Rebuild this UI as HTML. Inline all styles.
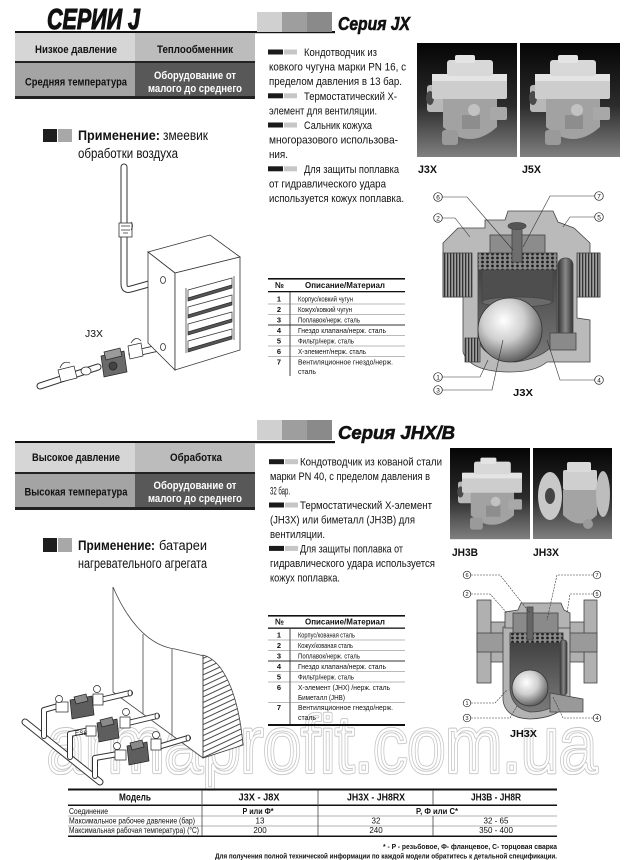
<!DOCTYPE html>
<html><head><meta charset="utf-8"><title>Серии J</title>
<style>
html,body{margin:0;padding:0;background:#fff;width:640px;height:860px;overflow:hidden}
svg{display:block}
text{font-family:"Liberation Sans","Noto Sans CJK SC",sans-serif;fill:#111}
</style></head><body>
<svg width="640" height="860" viewBox="0 0 640 860" xmlns="http://www.w3.org/2000/svg">
<defs>
 <linearGradient id="photo" x1="0" y1="0" x2="0" y2="1">
  <stop offset="0" stop-color="#050505"/>
  <stop offset="0.55" stop-color="#2c2c2c"/>
  <stop offset="1" stop-color="#808080"/>
 </linearGradient>
 <radialGradient id="ball" cx="0.4" cy="0.35" r="0.72">
  <stop offset="0" stop-color="#ffffff"/>
  <stop offset="0.45" stop-color="#cfcfcf"/>
  <stop offset="1" stop-color="#4a4a4a"/>
 </radialGradient>
 <linearGradient id="chamber" x1="0" y1="0" x2="0" y2="1">
  <stop offset="0" stop-color="#3a3a3a"/>
  <stop offset="1" stop-color="#7a7a7a"/>
 </linearGradient>
 <linearGradient id="tube" x1="0" y1="0" x2="1" y2="0">
  <stop offset="0" stop-color="#333"/>
  <stop offset="0.5" stop-color="#888"/>
  <stop offset="1" stop-color="#333"/>
 </linearGradient>
 <pattern id="mesh" width="5" height="4" patternUnits="userSpaceOnUse">
  <rect width="5" height="4" fill="#8a8a8a"/>
  <circle cx="2.5" cy="2" r="1.4" fill="#1e1e1e"/>
 </pattern>
 <pattern id="thread" width="3" height="10" patternUnits="userSpaceOnUse">
  <rect width="3" height="10" fill="#a0a0a0"/>
  <rect width="1.3" height="10" fill="#303030"/>
 </pattern>
 <pattern id="hatch" width="5" height="5" patternUnits="userSpaceOnUse" patternTransform="rotate(-25)">
  <rect width="5" height="5" fill="#fff"/>
  <line x1="0" y1="2.5" x2="5" y2="2.5" stroke="#333" stroke-width="0.9"/>
 </pattern>
 <g id="ico"><rect x="0" y="0" width="15" height="5" fill="#1a1a1a"/><rect x="16" y="0" width="13" height="5" fill="#c6c6c6"/></g>
 <g id="trapA">
  <rect x="0" y="0" width="100" height="114" fill="url(#photo)"/>
  <rect x="10" y="42" width="19" height="27" rx="3" fill="#b8b8b8"/>
  <ellipse cx="13" cy="55" rx="4" ry="7" fill="#4a4a4a"/>
  <path d="M26,55 L80,55 L80,84 Q53,108 26,84 Z" fill="#a2a2a2"/>
  <rect x="15" y="31" width="75" height="25" rx="2" fill="#cdcdcd"/>
  <rect x="15" y="31" width="75" height="7" fill="#e4e4e4"/>
  <rect x="30" y="17" width="46" height="16" rx="3" fill="#d8d8d8"/>
  <rect x="38" y="12" width="20" height="8" rx="2" fill="#e4e4e4"/>
  <rect x="25" y="87" width="16" height="15" rx="3" fill="#9a9a9a"/>
  <rect x="73" y="64" width="17" height="13" rx="2" fill="#a8a8a8"/>
  <rect x="45" y="72" width="18" height="14" fill="#8d8d8d"/>
  <circle cx="57" cy="67" r="6" fill="#c2c2c2"/>
 </g>
</defs>

<!-- watermark (hollow outlined letters), drawn first -->
<text x="47" y="772" font-size="80" textLength="550" lengthAdjust="spacingAndGlyphs" style="fill:none;stroke:#c4c4c4;stroke-width:4.2;stroke-linejoin:round">armaprofit.com.ua</text>
<text x="47" y="772" font-size="80" textLength="550" lengthAdjust="spacingAndGlyphs" style="fill:none;stroke:#fff;stroke-width:2.4;stroke-linejoin:round">armaprofit.com.ua</text>

<!-- ===== SECTION 1 HEADER ===== -->
<text x="47" y="29" font-size="29" font-weight="bold" font-style="italic" textLength="93" lengthAdjust="spacingAndGlyphs" stroke="#111" stroke-width="1.1">СЕРИИ J</text>
<rect x="15" y="31" width="320" height="2.2" fill="#111"/>
<rect x="257" y="12" width="25" height="20" fill="#d0d0d0"/>
<rect x="282" y="12" width="25" height="20" fill="#9e9e9e"/>
<rect x="307" y="12" width="25" height="20" fill="#8a8a8a"/>
<text x="338" y="30" font-size="18.5" font-weight="bold" font-style="italic" textLength="72" lengthAdjust="spacingAndGlyphs" stroke="#111" stroke-width="0.6">Серия JX</text>

<!-- table 1 -->
<rect x="15" y="33" width="120" height="29" fill="#d6d6d6"/>
<rect x="135" y="33" width="120" height="29" fill="#bcbcbc"/>
<rect x="15" y="61" width="240" height="2" fill="#222"/>
<rect x="15" y="63" width="120" height="34" fill="#a4a4a4"/>
<rect x="135" y="63" width="120" height="34" fill="#585858"/>
<rect x="15" y="96" width="240" height="3" fill="#222"/>
<text x="76" y="53" font-size="11" font-weight="bold" text-anchor="middle" textLength="82" lengthAdjust="spacingAndGlyphs">Низкое давление</text>
<text x="195" y="53" font-size="11" font-weight="bold" text-anchor="middle" textLength="76" lengthAdjust="spacingAndGlyphs">Теплообменник</text>
<text x="76" y="85.5" font-size="11" font-weight="bold" text-anchor="middle" textLength="102" lengthAdjust="spacingAndGlyphs">Средняя температура</text>
<text x="195" y="79" font-size="11" font-weight="bold" text-anchor="middle" textLength="82" lengthAdjust="spacingAndGlyphs" style="fill:#fff">Оборудование от</text>
<text x="195" y="92" font-size="11" font-weight="bold" text-anchor="middle" textLength="94" lengthAdjust="spacingAndGlyphs" style="fill:#fff">малого до среднего</text>

<!-- text block 1 -->
<use href="#ico" x="268" y="49.5"/>
<text x="304" y="56" font-size="11" textLength="73" lengthAdjust="spacingAndGlyphs">Кондотводчик из</text>
<text x="269" y="70.6" font-size="11" textLength="137" lengthAdjust="spacingAndGlyphs">ковкого чугуна марки PN 16, с</text>
<text x="269" y="85.2" font-size="11" textLength="133" lengthAdjust="spacingAndGlyphs">пределом давления в 13 бар.</text>
<use href="#ico" x="268" y="93.3"/>
<text x="304" y="99.8" font-size="11" textLength="93" lengthAdjust="spacingAndGlyphs">Термостатический Х-</text>
<text x="269" y="114.4" font-size="11" textLength="108" lengthAdjust="spacingAndGlyphs">элемент для вентиляции.</text>
<use href="#ico" x="268" y="122.5"/>
<text x="304" y="129" font-size="11" textLength="68" lengthAdjust="spacingAndGlyphs">Сальник кожуха</text>
<text x="269" y="143.6" font-size="11" textLength="129" lengthAdjust="spacingAndGlyphs">многоразового использова-</text>
<text x="269" y="158.2" font-size="11" textLength="19" lengthAdjust="spacingAndGlyphs">ния.</text>
<use href="#ico" x="268" y="166.3"/>
<text x="304" y="172.8" font-size="11" textLength="95" lengthAdjust="spacingAndGlyphs">Для защиты поплавка</text>
<text x="269" y="187.4" font-size="11" textLength="117" lengthAdjust="spacingAndGlyphs">от гидравлического удара</text>
<text x="269" y="202" font-size="11" textLength="135" lengthAdjust="spacingAndGlyphs">используется кожух поплавка.</text>

<!-- photos 1 -->
<use href="#trapA" transform="translate(417,43)"/>
<use href="#trapA" transform="translate(520,43)"/>
<text x="418" y="173" font-size="11" font-weight="bold" textLength="19" lengthAdjust="spacingAndGlyphs">J3X</text>
<text x="522" y="173" font-size="11" font-weight="bold" textLength="19" lengthAdjust="spacingAndGlyphs">J5X</text>

<!-- cross-section 1 -->
<g stroke="#444" stroke-width="0.8">
 <path d="M443,243 L458,228 L485,228 L485,220 L505,220 L508,211 L553,211 L558,222 L574,228 L590,243 L590,253 L600,253 L600,297 L577,297 L577,318 L590,320 L590,362 L547,362 Q535,372 510,372 Q470,372 463,352 L463,297 L443,297 Z" fill="#bababa"/>
 <rect x="443" y="253" width="29" height="44" fill="url(#thread)"/>
 <rect x="577" y="253" width="23" height="44" fill="url(#thread)"/>
 <path d="M478,253 L557,253 L557,337 Q550,357 515,362 Q480,357 478,337 Z" fill="url(#chamber)"/>
 <rect x="478" y="253" width="79" height="17" fill="url(#mesh)"/>
 <rect x="482" y="270" width="71" height="32" fill="#4e4e4e"/>
 <ellipse cx="517" cy="302" rx="35" ry="5" fill="#6a6a6a"/>
 <rect x="490" y="235" width="55" height="18" fill="#8c8c8c"/>
 <rect x="512" y="225" width="10" height="37" fill="#6e6e6e"/>
 <ellipse cx="517" cy="226" rx="9" ry="3.5" fill="#555"/>
 <rect x="558" y="258" width="15" height="80" rx="7" fill="url(#tube)"/>
 <rect x="465" y="338" width="15" height="24" fill="url(#thread)"/>
 <rect x="550" y="333" width="26" height="17" fill="#8a8a8a"/>
 <circle cx="510" cy="330" r="32" fill="url(#ball)" stroke="#333"/>
</g>
<g stroke="#333" stroke-width="0.6" fill="none">
 <path d="M442.5,197 L467,197 L513,250"/>
 <path d="M594.5,196 L550,196 L523,247"/>
 <path d="M442.5,218 L455,218 L470,237"/>
 <path d="M594.5,217 L570,217 L563,227"/>
 <path d="M442.5,377 L480,377 L488,360"/>
 <path d="M442.5,390 L492,390 L503,340"/>
 <path d="M594.5,380 L560,380 L547,340"/>
</g>
<g stroke="#222" stroke-width="0.7" fill="#fff">
 <circle cx="438" cy="197" r="4.3"/><circle cx="599" cy="196" r="4.3"/>
 <circle cx="438" cy="218" r="4.3"/><circle cx="599" cy="217" r="4.3"/>
 <circle cx="438" cy="377" r="4.3"/><circle cx="438" cy="390" r="4.3"/>
 <circle cx="599" cy="380" r="4.3"/>
</g>
<g font-size="6.5" text-anchor="middle">
 <text x="438" y="199.3">6</text><text x="599" y="198.3">7</text>
 <text x="438" y="220.3">2</text><text x="599" y="219.3">5</text>
 <text x="438" y="379.3">1</text><text x="438" y="392.3">3</text>
 <text x="599" y="382.3">4</text>
</g>
<text x="513" y="396" font-size="10.5" font-weight="bold" textLength="20" lengthAdjust="spacingAndGlyphs">J3X</text>

<!-- application 1 -->
<rect x="43" y="129" width="14" height="13" fill="#1e1e1e"/>
<rect x="58" y="129" width="14" height="13" fill="#a8a8a8"/>
<text x="78" y="140" font-size="13.5" font-weight="bold" textLength="82" lengthAdjust="spacingAndGlyphs">Применение:</text>
<text x="163" y="140" font-size="13.5" textLength="45" lengthAdjust="spacingAndGlyphs">змеевик</text>
<text x="78" y="158" font-size="13.5" textLength="100" lengthAdjust="spacingAndGlyphs">обработки воздуха</text>

<!-- illustration 1 -->
<g fill="none" stroke-linecap="round" stroke-linejoin="round">
 <path d="M124,167 L124,284 Q124,291 131,289 L163,280" stroke="#333" stroke-width="7"/>
 <path d="M124,167 L124,284 Q124,291 131,289 L163,280" stroke="#fff" stroke-width="5"/>
 <path d="M163,347 L132,354" stroke="#333" stroke-width="7"/>
 <path d="M163,347 L132,354" stroke="#fff" stroke-width="5"/>
 <path d="M98,367 L40,386" stroke="#333" stroke-width="7"/>
 <path d="M98,367 L40,386" stroke="#fff" stroke-width="5"/>
</g>
<g stroke="#333" stroke-width="0.8">
 <rect x="119" y="223" width="13" height="14" fill="#fff"/>
 <path d="M121,226 L130,226 M121,230 L130,230 M123,233 L128,233" fill="none"/>
 <path d="M131,222 Q134,226 131,230" fill="none"/>
 <polygon points="148,252 210,235 240,257 175,273" fill="#fff"/>
 <polygon points="148,252 175,273 175,370 148,343" fill="#fff"/>
 <polygon points="175,273 240,257 240,350 175,370" fill="#fff"/>
 <ellipse cx="163" cy="280" rx="2.5" ry="3.5" fill="#fff"/>
 <ellipse cx="163" cy="347" rx="2.5" ry="3.5" fill="#fff"/>
</g>
<g stroke="#333" stroke-width="0.7">
 <polygon points="188,290 232,278 232,285 188,298" fill="#fff"/>
 <polygon points="188,298 232,285 232,288 188,301" fill="#555"/>
 <polygon points="188,307 232,295 232,302 188,315" fill="#fff"/>
 <polygon points="188,315 232,302 232,305 188,318" fill="#555"/>
 <polygon points="188,324 232,312 232,319 188,332" fill="#fff"/>
 <polygon points="188,332 232,319 232,322 188,335" fill="#555"/>
 <polygon points="188,341 232,329 232,336 188,349" fill="#fff"/>
 <polygon points="188,349 232,336 232,339 188,352" fill="#555"/>
 <path d="M186,288 L186,353 M234,276 L234,340" fill="none"/>
</g>
<g stroke="#222" stroke-width="0.7">
 <path d="M101,356 L124,351 L127,372 L104,377 Z" fill="#6a6a6a"/>
 <path d="M104,352 L120,348 L122,356 L106,360 Z" fill="#9a9a9a"/>
 <circle cx="113" cy="366" r="4" fill="#444"/>
 <path d="M128,346 L141,343 L143,356 L130,359 Z" fill="#fff"/>
 <path d="M131,343 Q136,335 141,341" fill="none"/>
 <path d="M58,370 L74,366 L77,378 L61,382 Z" fill="#fff"/>
 <path d="M60,368 Q63,360 70,363" fill="none"/>
 <ellipse cx="86" cy="371" rx="5" ry="4" fill="#fff"/>
</g>
<text x="85" y="337" font-size="10" textLength="18" lengthAdjust="spacingAndGlyphs">J3X</text>

<!-- parts table 1 -->
<rect x="268" y="278" width="137" height="1.6" fill="#111"/>
<text x="275" y="288" font-size="8.5" font-weight="bold" textLength="9" lengthAdjust="spacingAndGlyphs">№</text>
<text x="305" y="288" font-size="8.5" font-weight="bold" textLength="80" lengthAdjust="spacingAndGlyphs">Описание/Материал</text>
<rect x="268" y="291" width="137" height="1.3" fill="#111"/>
<line x1="290" y1="292" x2="290" y2="376" stroke="#444" stroke-width="1"/>
<g stroke="#777" stroke-width="0.6">
 <line x1="268" y1="304" x2="405" y2="304"/><line x1="268" y1="314.5" x2="405" y2="314.5"/>
 <line x1="268" y1="325" x2="405" y2="325" stroke="#333" stroke-width="0.9"/><line x1="268" y1="335.5" x2="405" y2="335.5"/>
 <line x1="268" y1="346" x2="405" y2="346"/><line x1="268" y1="356.5" x2="405" y2="356.5"/>
</g>
<g font-size="7.5" font-weight="bold" text-anchor="middle">
 <text x="279" y="301.5">1</text><text x="279" y="312">2</text><text x="279" y="322.5">3</text>
 <text x="279" y="333">4</text><text x="279" y="343.5">5</text><text x="279" y="354">6</text>
 <text x="279" y="364.5">7</text>
</g>
<g font-size="7.5">
 <text x="298" y="301.5" textLength="55" lengthAdjust="spacingAndGlyphs">Корпус/ковкий чугун</text>
 <text x="298" y="312" textLength="54" lengthAdjust="spacingAndGlyphs">Кожух/ковкий чугун</text>
 <text x="298" y="322.5" textLength="62" lengthAdjust="spacingAndGlyphs">Поплавок/нерж. сталь</text>
 <text x="298" y="333" textLength="88" lengthAdjust="spacingAndGlyphs">Гнездо клапана/нерж. сталь</text>
 <text x="298" y="343.5" textLength="56" lengthAdjust="spacingAndGlyphs">Фильтр/нерж. сталь</text>
 <text x="298" y="354" textLength="68" lengthAdjust="spacingAndGlyphs">Х-элемент/нерж. сталь</text>
 <text x="298" y="364.5" textLength="95" lengthAdjust="spacingAndGlyphs">Вентиляционное гнездо/нерж.</text>
 <text x="298" y="374" textLength="18" lengthAdjust="spacingAndGlyphs">сталь</text>
</g>

<!-- ===== SECTION 2 HEADER ===== -->
<rect x="15" y="441" width="320" height="2.2" fill="#111"/>
<rect x="257" y="420" width="25" height="20" fill="#d0d0d0"/>
<rect x="282" y="420" width="25" height="20" fill="#9e9e9e"/>
<rect x="307" y="420" width="25" height="20" fill="#8a8a8a"/>
<text x="338" y="439" font-size="18.5" font-weight="bold" font-style="italic" textLength="117" lengthAdjust="spacingAndGlyphs" stroke="#111" stroke-width="0.6">Серия JHX/B</text>

<rect x="15" y="443" width="120" height="30" fill="#d6d6d6"/>
<rect x="135" y="443" width="120" height="30" fill="#bcbcbc"/>
<rect x="15" y="472" width="240" height="2" fill="#222"/>
<rect x="15" y="474" width="120" height="34" fill="#a4a4a4"/>
<rect x="135" y="474" width="120" height="34" fill="#585858"/>
<rect x="15" y="507" width="240" height="3" fill="#222"/>
<text x="76" y="461" font-size="11" font-weight="bold" text-anchor="middle" textLength="88" lengthAdjust="spacingAndGlyphs">Высокое давление</text>
<text x="196" y="461" font-size="11" font-weight="bold" text-anchor="middle" textLength="52" lengthAdjust="spacingAndGlyphs">Обработка</text>
<text x="76" y="495.5" font-size="11" font-weight="bold" text-anchor="middle" textLength="103" lengthAdjust="spacingAndGlyphs">Высокая температура</text>
<text x="195" y="489" font-size="11" font-weight="bold" text-anchor="middle" textLength="83" lengthAdjust="spacingAndGlyphs" style="fill:#fff">Оборудование от</text>
<text x="195" y="502" font-size="11" font-weight="bold" text-anchor="middle" textLength="94" lengthAdjust="spacingAndGlyphs" style="fill:#fff">малого до среднего</text>

<!-- text block 2 -->
<use href="#ico" x="269" y="459.2"/>
<text x="300" y="465.7" font-size="11" textLength="142" lengthAdjust="spacingAndGlyphs">Кондотводчик из кованой стали</text>
<text x="270" y="480.2" font-size="11" textLength="160" lengthAdjust="spacingAndGlyphs">марки PN 40, с пределом давления в</text>
<text x="270" y="494.6" font-size="11" textLength="20" lengthAdjust="spacingAndGlyphs">32 бар.</text>
<use href="#ico" x="269" y="502.5"/>
<text x="300" y="509" font-size="11" textLength="132" lengthAdjust="spacingAndGlyphs">Термостатический Х-элемент</text>
<text x="270" y="523.5" font-size="11" textLength="145" lengthAdjust="spacingAndGlyphs">(JH3X) или биметалл (JH3B) для</text>
<text x="270" y="538" font-size="11" textLength="55" lengthAdjust="spacingAndGlyphs">вентиляции.</text>
<use href="#ico" x="269" y="545.9"/>
<text x="300" y="552.4" font-size="11" textLength="103" lengthAdjust="spacingAndGlyphs">Для защиты поплавка от</text>
<text x="270" y="566.8" font-size="11" textLength="165" lengthAdjust="spacingAndGlyphs">гидравлического удара используется</text>
<text x="270" y="581.3" font-size="11" textLength="70" lengthAdjust="spacingAndGlyphs">кожух поплавка.</text>

<!-- photos 2 -->
<use href="#trapA" transform="translate(450,448) scale(0.8,0.8)"/>
<rect x="533" y="448" width="79" height="91" fill="url(#photo)"/>
<g>
 <rect x="563" y="470" width="34" height="20" rx="2" fill="#cfcfcf"/>
 <rect x="567" y="462" width="24" height="10" rx="2" fill="#dadada"/>
 <path d="M563,490 L597,490 L597,515 Q580,532 563,515 Z" fill="#a4a4a4"/>
 <ellipse cx="550" cy="496" rx="12" ry="24" fill="#c8c8c8"/>
 <ellipse cx="550" cy="496" rx="5" ry="8" fill="#444"/>
 <ellipse cx="603" cy="494" rx="7" ry="23" fill="#bdbdbd"/>
 <circle cx="588" cy="524" r="5" fill="#9a9a9a"/>
</g>
<text x="452" y="556" font-size="11" font-weight="bold" textLength="26" lengthAdjust="spacingAndGlyphs">JH3B</text>
<text x="533" y="556" font-size="11" font-weight="bold" textLength="26" lengthAdjust="spacingAndGlyphs">JH3X</text>

<!-- application 2 -->
<rect x="43" y="538" width="14" height="14" fill="#1e1e1e"/>
<rect x="58" y="538" width="14" height="14" fill="#a8a8a8"/>
<text x="78" y="550" font-size="13.5" font-weight="bold" textLength="77" lengthAdjust="spacingAndGlyphs">Применение:</text>
<text x="159" y="550" font-size="13.5" textLength="48" lengthAdjust="spacingAndGlyphs">батареи</text>
<text x="78" y="568" font-size="13.5" textLength="129" lengthAdjust="spacingAndGlyphs">нагревательного агрегата</text>

<!-- parts table 2 -->
<rect x="268" y="615" width="137" height="1.6" fill="#111"/>
<text x="275" y="624.5" font-size="8.5" font-weight="bold" textLength="9" lengthAdjust="spacingAndGlyphs">№</text>
<text x="305" y="624.5" font-size="8.5" font-weight="bold" textLength="80" lengthAdjust="spacingAndGlyphs">Описание/Материал</text>
<rect x="268" y="627.5" width="137" height="1.3" fill="#111"/>
<line x1="290" y1="629" x2="290" y2="724" stroke="#444" stroke-width="1"/>
<g stroke="#777" stroke-width="0.6">
 <line x1="268" y1="640" x2="405" y2="640"/><line x1="268" y1="650.5" x2="405" y2="650.5"/>
 <line x1="268" y1="661" x2="405" y2="661" stroke="#333" stroke-width="0.9"/><line x1="268" y1="671.5" x2="405" y2="671.5"/>
 <line x1="268" y1="682" x2="405" y2="682"/><line x1="268" y1="702.5" x2="405" y2="702.5"/>
</g>
<rect x="268" y="724" width="137" height="2" fill="#111"/>
<g font-size="7.5" font-weight="bold" text-anchor="middle">
 <text x="279" y="637.5">1</text><text x="279" y="648">2</text><text x="279" y="658.5">3</text>
 <text x="279" y="669">4</text><text x="279" y="679.5">5</text><text x="279" y="690">6</text>
 <text x="279" y="710">7</text>
</g>
<g font-size="7.5">
 <text x="298" y="637.5" textLength="57" lengthAdjust="spacingAndGlyphs">Корпус/кованая сталь</text>
 <text x="298" y="648" textLength="55" lengthAdjust="spacingAndGlyphs">Кожух/кованая сталь</text>
 <text x="298" y="658.5" textLength="62" lengthAdjust="spacingAndGlyphs">Поплавок/нерж. сталь</text>
 <text x="298" y="669" textLength="88" lengthAdjust="spacingAndGlyphs">Гнездо клапана/нерж. сталь</text>
 <text x="298" y="679.5" textLength="56" lengthAdjust="spacingAndGlyphs">Фильтр/нерж. сталь</text>
 <text x="298" y="690" textLength="92" lengthAdjust="spacingAndGlyphs">Х-элемент (JHX) /нерж. сталь</text>
 <text x="298" y="700" textLength="47" lengthAdjust="spacingAndGlyphs">Биметалл (JHB)</text>
 <text x="298" y="710" textLength="95" lengthAdjust="spacingAndGlyphs">Вентиляционное гнездо/нерж.</text>
 <text x="298" y="720" textLength="18" lengthAdjust="spacingAndGlyphs">сталь</text>
</g>

<!-- cross-section 2 -->
<g stroke="#444" stroke-width="0.8">
 <rect x="477" y="600" width="14" height="83" fill="#b0b0b0"/>
 <rect x="491" y="622" width="14" height="40" fill="#b0b0b0"/>
 <rect x="584" y="600" width="13" height="83" fill="#b0b0b0"/>
 <rect x="568" y="622" width="16" height="40" fill="#b0b0b0"/>
 <rect x="477" y="633" width="120" height="19" fill="#9a9a9a"/>
 <path d="M503,627 L503,700 Q505,718 530,719 Q560,718 570,700 L570,627 Z" fill="#b3b3b3"/>
 <path d="M505,628 L505,612 L518,610 L521,603 L561,603 L564,610 L570,613 L570,628 Z" fill="#b3b3b3"/>
 <path d="M510,633 L563,633 L563,695 Q555,712 530,712 Q512,708 510,690 Z" fill="url(#chamber)"/>
 <rect x="513" y="613" width="45" height="20" fill="#8a8a8a"/>
 <rect x="510" y="633" width="53" height="10" fill="url(#mesh)"/>
 <rect x="527" y="607" width="6" height="33" fill="#666"/>
 <rect x="560" y="640" width="7" height="55" rx="3" fill="url(#tube)"/>
 <path d="M550,693 L583,699 L583,712 L550,712 Z" fill="#999"/>
 <circle cx="530" cy="688" r="18" fill="url(#ball)" stroke="#333"/>
</g>
<g stroke="#333" stroke-width="0.6" fill="none" stroke-dasharray="2,1">
 <path d="M471,575 L500,575 L530,613"/>
 <path d="M593,575 L557,575 L547,620"/>
 <path d="M471,594 L490,594 L507,613"/>
 <path d="M593,594 L570,594 L567,613"/>
 <path d="M471,703 L495,703 L507,690"/>
 <path d="M471,718 L510,718 L517,706"/>
 <path d="M593,718 L563,718 L553,697"/>
</g>
<g stroke="#222" stroke-width="0.7" fill="#fff">
 <circle cx="467" cy="575" r="3.8"/><circle cx="597" cy="575" r="3.8"/>
 <circle cx="467" cy="594" r="3.8"/><circle cx="597" cy="594" r="3.8"/>
 <circle cx="467" cy="703" r="3.8"/><circle cx="467" cy="718" r="3.8"/>
 <circle cx="597" cy="718" r="3.8"/>
</g>
<g font-size="5.5" text-anchor="middle">
 <text x="467" y="577">6</text><text x="597" y="577">7</text>
 <text x="467" y="596">2</text><text x="597" y="596">5</text>
 <text x="467" y="705">1</text><text x="467" y="720">3</text>
 <text x="597" y="720">4</text>
</g>
<text x="510" y="737" font-size="10.5" font-weight="bold" textLength="27" lengthAdjust="spacingAndGlyphs">JH3X</text>

<!-- illustration 2 -->
<g stroke="#444" stroke-width="0.8">
 <path d="M113,587 C125,615 145,645 175,649 L200,655 C222,660 238,690 243,745 L203,758 L113,692 Z" fill="#fff"/>
 <path d="M203,655 C222,660 238,690 243,745 L203,758 Z" fill="url(#hatch)"/>
 <path d="M143,634 L143,714 M172,649 L172,735 M203,655 L203,758" fill="none"/>
</g>
<g fill="none" stroke-linecap="round" stroke-linejoin="round">
 <path d="M25,722 L100,782" stroke="#333" stroke-width="7"/>
 <path d="M25,722 L100,782" stroke="#fff" stroke-width="5"/>
 <path d="M44,736 L44,710 L58,706 M70,757 L70,734 L90,730 M95,776 L95,758 L118,754" stroke="#333" stroke-width="6"/>
 <path d="M44,736 L44,710 L58,706 M70,757 L70,734 L90,730 M95,776 L95,758 L118,754" stroke="#fff" stroke-width="4"/>
 <path d="M100,700 L130,693 M128,723 L157,716 M158,747 L188,738" stroke="#333" stroke-width="6"/>
 <path d="M100,700 L130,693 M128,723 L157,716 M158,747 L188,738" stroke="#fff" stroke-width="4"/>
</g>
<g stroke="#222" stroke-width="0.7">
 <path d="M70,700 L92,696 L94,715 L72,719 Z" fill="#5e5e5e"/>
 <path d="M97,723 L117,719 L119,738 L99,742 Z" fill="#5e5e5e"/>
 <path d="M127,746 L147,742 L149,761 L129,765 Z" fill="#5e5e5e"/>
 <path d="M74,697 L86,694 L88,701 L76,704 Z" fill="#8a8a8a"/>
 <path d="M100,720 L112,717 L114,724 L102,727 Z" fill="#8a8a8a"/>
 <path d="M130,743 L142,740 L144,747 L132,750 Z" fill="#8a8a8a"/>
 <rect x="56" y="702" width="12" height="10" fill="#fff"/>
 <rect x="93" y="694" width="10" height="11" fill="#fff"/>
 <rect x="86" y="726" width="10" height="10" fill="#fff"/>
 <rect x="120" y="717" width="10" height="11" fill="#fff"/>
 <rect x="115" y="750" width="11" height="10" fill="#fff"/>
 <rect x="151" y="739" width="10" height="11" fill="#fff"/>
 <circle cx="59" cy="699" r="3.5" fill="#fff"/><circle cx="97" cy="689" r="3.5" fill="#fff"/>
 <circle cx="126" cy="712" r="3.5" fill="#fff"/><circle cx="156" cy="735" r="3.5" fill="#fff"/>
 <circle cx="117" cy="746" r="3.5" fill="#fff"/>
 <ellipse cx="130" cy="693" rx="2" ry="3" fill="#fff"/>
 <ellipse cx="157" cy="716" rx="2" ry="3" fill="#fff"/>
 <ellipse cx="188" cy="738" rx="2" ry="3" fill="#fff"/>
</g>
<text x="75" y="735" font-size="6" textLength="12" lengthAdjust="spacingAndGlyphs">ES8</text>

<!-- bottom table -->
<rect x="68" y="788.5" width="489" height="2" fill="#111"/>
<text x="135" y="800.5" font-size="10" font-weight="bold" text-anchor="middle" textLength="32" lengthAdjust="spacingAndGlyphs">Модель</text>
<text x="259" y="800.5" font-size="10" font-weight="bold" text-anchor="middle" textLength="41" lengthAdjust="spacingAndGlyphs">J3X - J8X</text>
<text x="376" y="800.5" font-size="10" font-weight="bold" text-anchor="middle" textLength="58" lengthAdjust="spacingAndGlyphs">JH3X - JH8RX</text>
<text x="496" y="800.5" font-size="10" font-weight="bold" text-anchor="middle" textLength="50" lengthAdjust="spacingAndGlyphs">JH3B - JH8R</text>
<rect x="68" y="804.5" width="489" height="1.5" fill="#111"/>
<line x1="68" y1="816" x2="557" y2="816" stroke="#666" stroke-width="0.6"/>
<line x1="68" y1="826" x2="557" y2="826" stroke="#666" stroke-width="0.6"/>
<rect x="68" y="835.5" width="489" height="1.5" fill="#111"/>
<g stroke="#444" stroke-width="0.8">
 <line x1="202" y1="790" x2="202" y2="836"/>
 <line x1="318" y1="790" x2="318" y2="836"/>
 <line x1="433" y1="790" x2="433" y2="805"/>
 <line x1="433" y1="816" x2="433" y2="836"/>
</g>
<g font-size="8">
 <text x="69" y="814" textLength="39" lengthAdjust="spacingAndGlyphs">Соединение</text>
 <text x="69" y="823.5" textLength="126" lengthAdjust="spacingAndGlyphs">Максимальное рабочее давление (бар)</text>
 <text x="69" y="833" textLength="130" lengthAdjust="spacingAndGlyphs">Максимальная рабочая температура) (°С)</text>
</g>
<g font-size="8" text-anchor="middle">
 <text x="258" y="814" font-weight="bold" textLength="31" lengthAdjust="spacingAndGlyphs">Р или Ф*</text>
 <text x="437" y="814" font-weight="bold" textLength="42" lengthAdjust="spacingAndGlyphs">P, Ф или С*</text>
 <text x="260" y="823.5">13</text>
 <text x="376" y="823.5">32</text>
 <text x="496" y="823.5">32 - 65</text>
 <text x="260" y="833">200</text>
 <text x="376" y="833">240</text>
 <text x="496" y="833">350 - 400</text>
</g>
<text x="557" y="849" font-size="7" font-weight="bold" text-anchor="end" textLength="174" lengthAdjust="spacingAndGlyphs">* - P - резьбовое, Ф- фланцевое, С- торцовая сварка</text>
<text x="557" y="858.5" font-size="7" font-weight="bold" text-anchor="end" textLength="342" lengthAdjust="spacingAndGlyphs">Для получения полной технической информации по каждой модели обратитесь к детальной спецификации.</text>
</svg>
</body></html>
